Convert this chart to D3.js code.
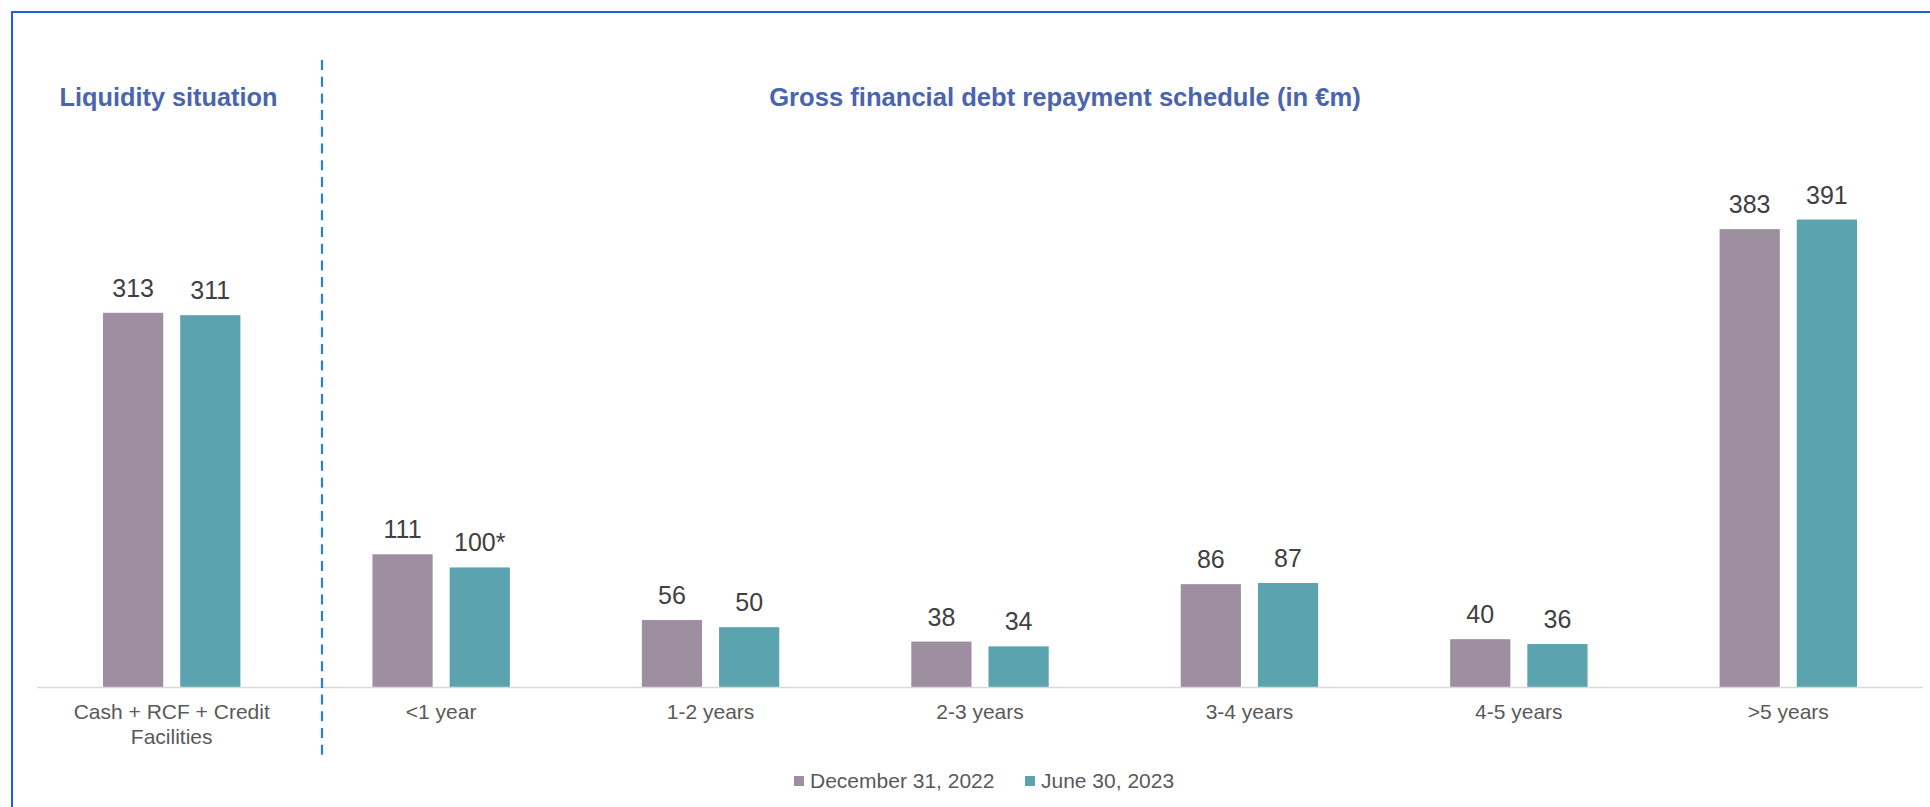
<!DOCTYPE html>
<html>
<head>
<meta charset="utf-8">
<script src="https://cdn.jsdelivr.net/npm/d3@7"></script>
<style>
	html, body { margin: 0; padding: 0; background: #fff; }
	svg { display: block; font-family: "Liberation Sans", Arial, sans-serif; }
</style>
</head>
<body>
<svg id="chart"></svg>
<script>
var categories = ['Cash + RCF + Credit Facilities', '<1 year', '1-2 years', '2-3 years', '3-4 years', '4-5 years', '>5 years']
var seriesNames = ['December 31, 2022', 'June 30, 2023']
var dec2022 = [313, 111, 56, 38, 86, 40, 383]
var jun2023 = [311, 100, 50, 34, 87, 36, 391]
var jun2023Notes = ['', '*', '', '', '', '', '']
var colors = ['#9e8fa0', '#5ba3ae']

var width = 1930, height = 807
var plotLeft = 37, plotRight = 1923, plotTop = 149, plotBottom = 687

var svg = d3.select('#chart')
	.attr('width', width)
	.attr('height', height)

// frame
svg.append('path')
	.attr('d', 'M12,' + height + 'V12H' + width)
	.attr('fill', 'none')
	.attr('stroke', '#1f5fd8')
	.attr('stroke-width', 2)

var data = categories.map((c, i) => ({
	cat: c,
	values: [
		{key: seriesNames[0], v: dec2022[i], label: dec2022[i] + ''},
		{key: seriesNames[1], v: jun2023[i], label: jun2023[i] + jun2023Notes[i]}
	]
}))

var x0 = d3.scaleBand()
	.domain(categories)
	.range([plotLeft, plotRight])
	.paddingInner(0.49)
	.paddingOuter(0.245)

var x1 = d3.scaleBand()
	.domain(seriesNames)
	.range([0, x0.bandwidth()])
	.paddingInner(0.22)

var y = d3.scaleLinear()
	.domain([0, 450])
	.range([plotBottom, plotTop])

var color = d3.scaleOrdinal()
	.domain(seriesNames)
	.range(colors)

var groups = svg.append('g').selectAll('g')
	.data(data)
	.enter()
	.append('g')
		.attr('transform', d => 'translate(' + x0(d.cat) + ',0)')

groups.selectAll('rect')
	.data(d => d.values)
	.enter()
	.append('rect')
		.attr('x', d => x1(d.key))
		.attr('y', d => y(d.v))
		.attr('width', x1.bandwidth())
		.attr('height', d => y(0) - y(d.v))
		.attr('fill', d => color(d.key))

groups.selectAll('text')
	.data(d => d.values)
	.enter()
	.append('text')
		.attr('x', d => x1(d.key) + x1.bandwidth() / 2)
		.attr('y', d => y(d.v) - 16)
		.attr('text-anchor', 'middle')
		.attr('font-size', 25)
		.attr('fill', '#404040')
		.text(d => d.label)

// baseline
svg.append('line')
	.attr('x1', plotLeft)
	.attr('x2', plotRight)
	.attr('y1', y(0) + 0.5)
	.attr('y2', y(0) + 0.5)
	.attr('stroke', '#d9d9d9')
	.attr('stroke-width', 1.5)

// category labels, first one wrapped on two lines
var catLines = {'Cash + RCF + Credit Facilities': ['Cash + RCF + Credit', 'Facilities']}
svg.append('g').selectAll('text')
	.data(categories)
	.enter()
	.append('text')
		.attr('x', d => x0(d) + x0.bandwidth() / 2)
		.attr('y', y(0) + 32)
		.attr('text-anchor', 'middle')
		.attr('font-size', 21)
		.attr('fill', '#595959')
		.each(function(d) {
			var lines = catLines[d] || [d]
			var t = d3.select(this)
			lines.forEach((l, i) => {
				t.append('tspan')
					.attr('x', x0(d) + x0.bandwidth() / 2)
					.attr('dy', i == 0 ? 0 : 25)
					.text(l)
			})
		})

// divider between liquidity and repayment schedule
svg.append('line')
	.attr('x1', 322)
	.attr('x2', 322)
	.attr('y1', 60)
	.attr('y2', 757)
	.attr('stroke', '#2a7de1')
	.attr('stroke-width', 2.2)
	.attr('stroke-dasharray', '10,6.7')

// titles
svg.append('text')
	.attr('x', 168.5)
	.attr('y', 106)
	.attr('text-anchor', 'middle')
	.attr('font-size', 25.3)
	.attr('font-weight', 'bold')
	.attr('fill', '#4a64ae')
	.text('Liquidity situation')

svg.append('text')
	.attr('x', 1065)
	.attr('y', 106)
	.attr('text-anchor', 'middle')
	.attr('font-size', 25.6)
	.attr('font-weight', 'bold')
	.attr('fill', '#4a64ae')
	.text('Gross financial debt repayment schedule (in €m)')

// legend
var legendX = [794, 1025]
var legend = svg.append('g').selectAll('g')
	.data(seriesNames)
	.enter()
	.append('g')
		.attr('transform', (d, i) => 'translate(' + legendX[i] + ',776)')

legend.append('rect')
	.attr('width', 10)
	.attr('height', 10)
	.attr('fill', d => color(d))

legend.append('text')
	.attr('x', 16)
	.attr('y', 12)
	.attr('font-size', 21)
	.attr('fill', '#595959')
	.text(d => d)
</script>
</body>
</html>
